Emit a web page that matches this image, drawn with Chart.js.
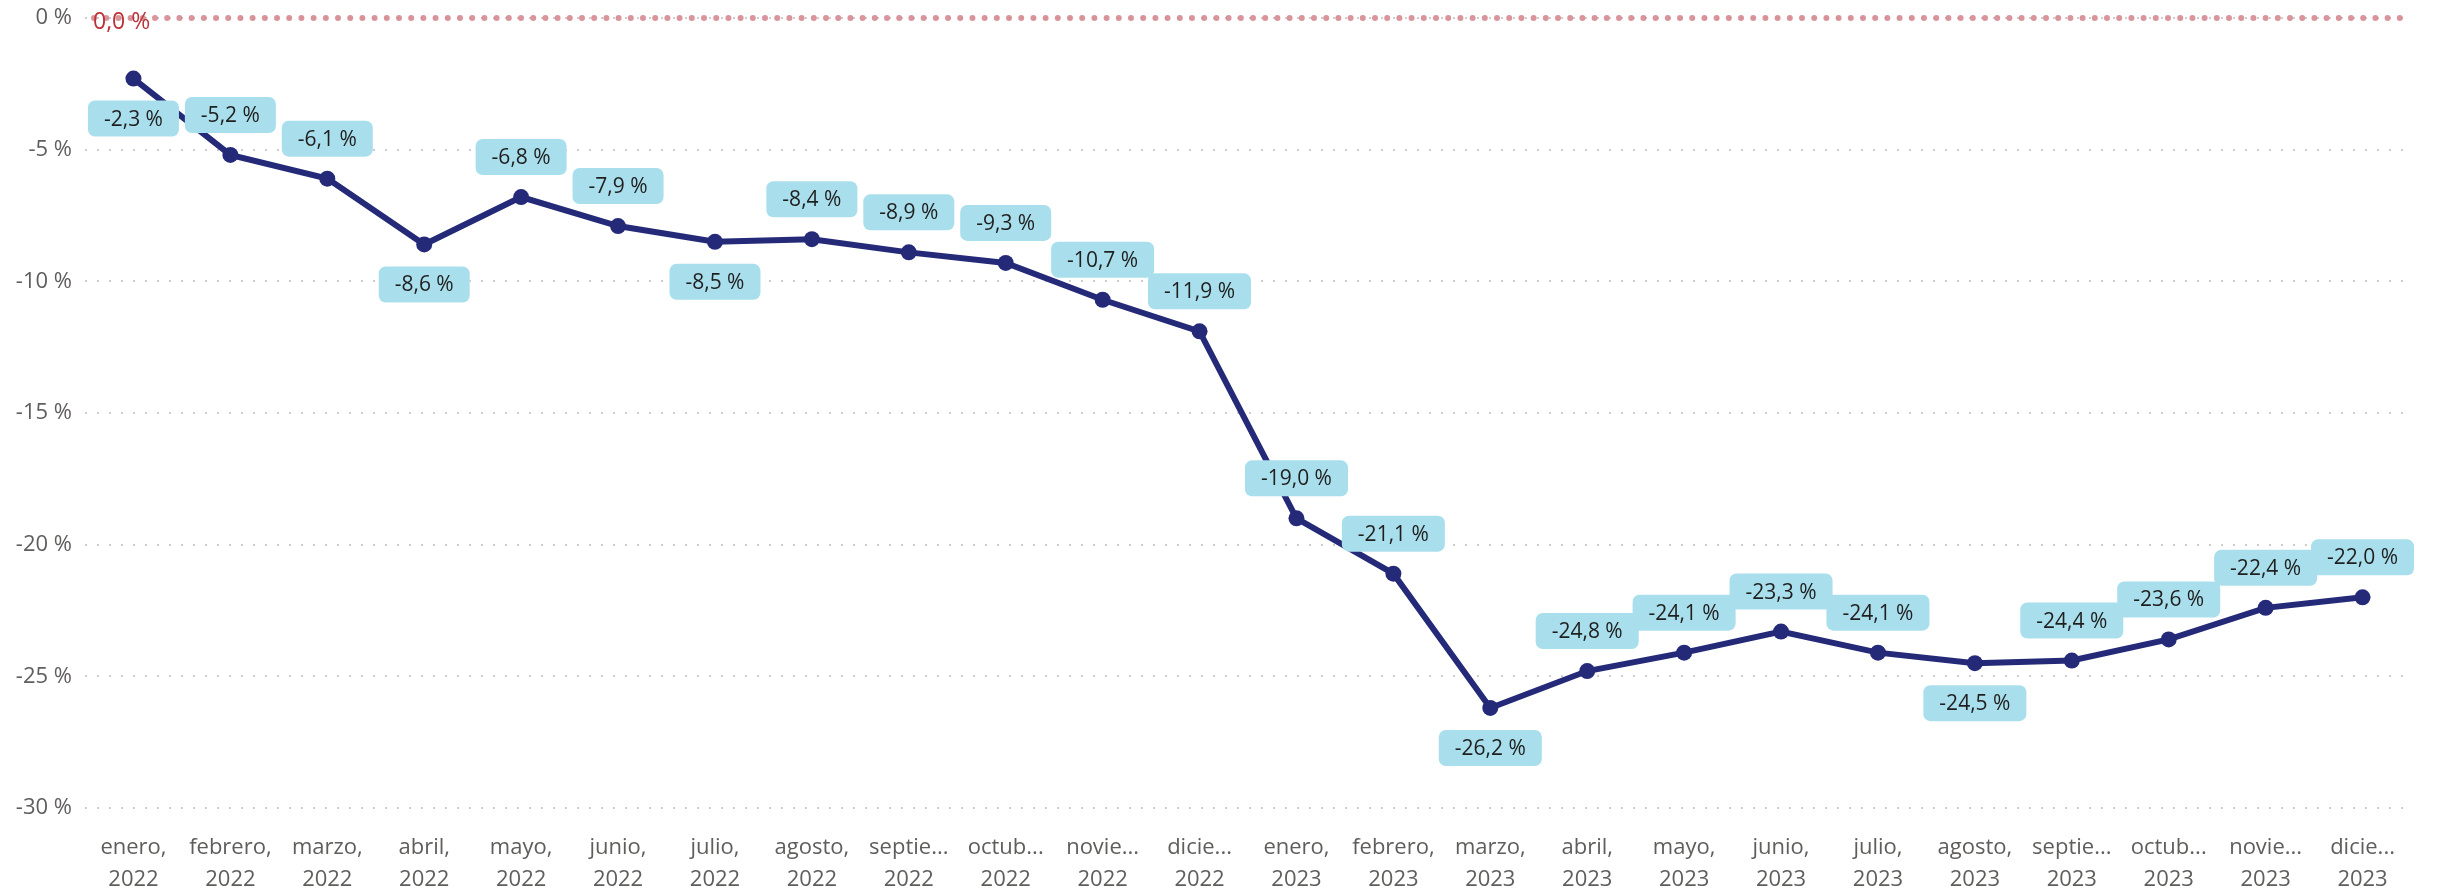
<!DOCTYPE html>
<html>
<head>
<meta charset="utf-8">
<script src="https://cdn.jsdelivr.net/npm/chart.js@4.4.1/dist/chart.umd.min.js"></script>
<style>
    html, body { margin: 0; padding: 0; background: #fff; }
    #wrap { width: 2442px; height: 892px; }
</style>
</head>
<body>
<div id="wrap"><canvas id="chart" width="2442" height="892"></canvas></div>
<script>
// months shown on the axis (long names are cut like in the report)
const months = ['enero,', 'febrero,', 'marzo,', 'abril,', 'mayo,', 'junio,',
    'julio,', 'agosto,', 'septie...', 'octub...', 'novie...', 'dicie...'];
const years = ['2022', '2023'];

// year-over-year change, %
const values2022 = [-2.3, -5.2, -6.1, -8.6, -6.8, -7.9, -8.5, -8.4, -8.9, -9.3, -10.7, -11.9];
const values2023 = [-19.0, -21.1, -26.2, -24.8, -24.1, -23.3, -24.1, -24.5, -24.4, -23.6, -22.4, -22.0];

const yTicks = [0, -5, -10, -15, -20, -25, -30];
const referenceValue = 0;

const labels = [];
years.forEach(y => months.forEach(m => labels.push([m, y])));
const values = values2022.concat(values2023);

const FONT = "'Segoe UI', 'Open Sans', sans-serif";
const fmt = v => v.toFixed(1).replace('.', ',') + ' %';

// dotted red line at 0 with its label
const referenceLine = {
    id: 'referenceLine',
    beforeDatasetsDraw(chart) {
        const { ctx, chartArea, scales } = chart;
        const y = scales.y.getPixelForValue(referenceValue);
        ctx.save();
        ctx.strokeStyle = 'rgba(210, 130, 138, 0.85)';
        ctx.lineWidth = 6;
        ctx.lineCap = 'round';
        ctx.setLineDash([0, 12.2]);
        ctx.beginPath();
        ctx.moveTo(chartArea.left + 9, y);
        ctx.lineTo(chartArea.right, y);
        ctx.stroke();
        ctx.setLineDash([]);
        ctx.fillStyle = '#BB3338';
        ctx.font = '23px ' + FONT;
        ctx.textBaseline = 'middle';
        ctx.fillText(fmt(referenceValue), chartArea.left + 8, y + 4);
        ctx.restore();
    }
};

// boxed data labels, below the point at local minima or when there is no room above
const boxLabels = {
    id: 'boxLabels',
    afterDatasetsDraw(chart) {
        const { ctx, chartArea } = chart;
        const meta = chart.getDatasetMeta(0);
        const data = chart.data.datasets[0].data;
        ctx.save();
        ctx.font = '21px ' + FONT;
        ctx.textAlign = 'center';
        ctx.textBaseline = 'middle';
        meta.data.forEach((pt, i) => {
            const v = data[i];
            const prev = i > 0 ? data[i - 1] : Infinity;
            const next = i < data.length - 1 ? data[i + 1] : Infinity;
            const text = fmt(v);
            const w = ctx.measureText(text).width + 32;
            const h = 36;
            let below = v < prev && v < next;
            if (pt.y - 40 - h / 2 < chartArea.top + 20) below = true;
            const cy = below ? pt.y + 40 : pt.y - 40;
            ctx.fillStyle = '#A9DFEC';
            ctx.beginPath();
            ctx.roundRect(pt.x - w / 2, cy - h / 2, w, h, 7);
            ctx.fill();
            ctx.fillStyle = '#1F1F1F';
            ctx.fillText(text, pt.x, cy + 1);
        });
        ctx.restore();
    }
};

new Chart(document.getElementById('chart'), {
    type: 'line',
    data: {
        labels: labels,
        datasets: [{
            data: values,
            borderColor: '#252A78',
            backgroundColor: '#252A78',
            borderWidth: 6,
            pointRadius: 8,
            pointHoverRadius: 8,
            pointBackgroundColor: '#252A78',
            pointBorderWidth: 0,
            tension: 0
        }]
    },
    options: {
        responsive: false,
        animation: false,
        layout: { padding: { top: 18, right: 31, left: 0, bottom: 0 } },
        plugins: {
            legend: { display: false },
            tooltip: { enabled: false }
        },
        scales: {
            x: {
                offset: true,
                grid: { display: false },
                border: { display: false },
                ticks: {
                    color: '#605E5C',
                    font: { family: FONT, size: 22, lineHeight: 1.45 },
                    padding: 16,
                    maxRotation: 0,
                    autoSkip: false
                },
                afterFit(scale) { scale.height = 84; }
            },
            y: {
                min: -30,
                max: 0,
                afterBuildTicks(scale) { scale.ticks = yTicks.map(v => ({ value: v })); },
                grid: {
                    color: '#CFCDCB',
                    lineWidth: 2,
                    drawTicks: false
                },
                border: { display: false, dash: [2, 10] },
                ticks: {
                    color: '#605E5C',
                    font: { family: FONT, size: 22 },
                    padding: 13,
                    callback: v => v + ' %'
                },
                afterFit(scale) {
                    scale.width = 85;
                    // let the top tick label stick out above the plot, as in the report
                    scale.paddingTop = 0;
                    scale.paddingBottom = 0;
                }
            }
        }
    },
    plugins: [referenceLine, boxLabels]
});
</script>
</body>
</html>
